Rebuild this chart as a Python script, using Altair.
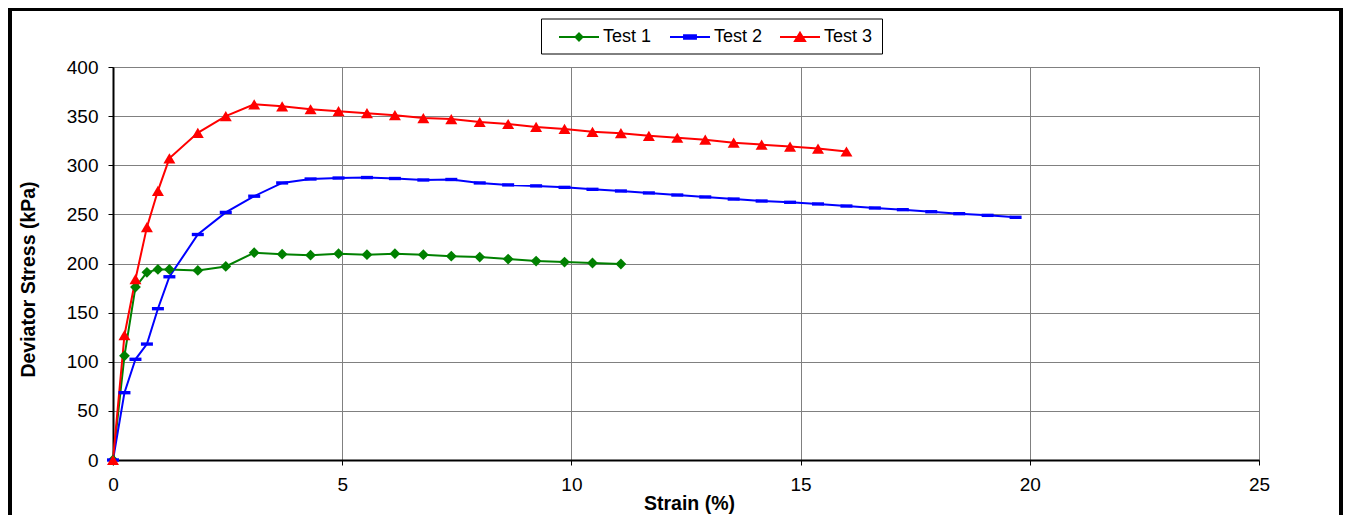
import altair as alt
import pandas as pd

# ---------------- data ----------------
strain = [0, 0.25, 0.49, 0.74, 0.98, 1.23, 1.85, 2.46, 3.08, 3.69, 4.31, 4.92,
          5.54, 6.15, 6.77, 7.38, 8.00, 8.62, 9.23, 9.85, 10.46, 11.08, 11.69,
          12.31, 12.92, 13.54, 14.15, 14.77, 15.38, 16.00, 16.62, 17.23, 17.85,
          18.46, 19.08, 19.69]

test1 = [0, 106, 176, 191, 194, 194, 193, 197, 211, 209.5, 208.5, 210, 209,
         210, 209, 207.5, 206.5, 204.5, 202.5, 201.5, 200.5, 199.5]

test2 = [0, 68.5, 102.5, 118, 154, 186.5, 229.5, 252, 268.5, 282, 286, 287,
         287.5, 286.5, 285, 285.5, 282, 280, 279, 277.5, 275.5, 273.8, 271.8,
         269.7, 267.7, 265.6, 263.6, 262.3, 260.6, 258.5, 256.5, 254.8, 252.7,
         250.7, 249, 247]

test3 = [0, 127, 184, 237, 274, 307, 333, 350, 362, 360, 357, 355, 353, 351,
         348, 347, 344, 342, 339, 337, 334, 332.6, 330, 328, 326, 323, 321, 319,
         317, 314]

series = ["Test 1", "Test 2", "Test 3"]
colors = ["#008000", "#0000FF", "#FF0000"]
x_ticks = [0, 5, 10, 15, 20, 25]
y_ticks = [0, 50, 100, 150, 200, 250, 300, 350, 400]

# marker shapes (unit-square SVG paths)
marker_paths = [
    "M0,-0.9L0.9,0L0,0.9L-0.9,0Z",              # diamond
    "M-1,-0.28L1,-0.28L1,0.28L-1,0.28Z",        # dash
    "M0,-0.85L1,0.85L-1,0.85Z",                 # triangle
]
# legend symbols: line segment + marker (scaled by sqrt(289)/2 = 8.5 px)
legend_paths = [
    "M-2.353,0L2.353,0M0,-0.41L0.41,0L0,0.41L-0.41,0Z",
    "M-2.353,0L2.353,0M-0.7,-0.2L0.7,-0.2L0.7,0.2L-0.7,0.2Z",
    "M-2.353,0L2.353,0M0,-0.5L0.59,0.47L-0.59,0.47Z",
]

rows = []
for name, vals in zip(series, [test1, test2, test3]):
    for i, v in enumerate(vals):
        rows.append({"series": name, "idx": i, "strain": strain[i], "stress": v})
df = pd.DataFrame(rows)

FONT = "Liberation Sans"
W, H = 1146, 393

x_enc = alt.X("strain:Q",
              scale=alt.Scale(domain=[0, 25], nice=False, zero=False),
              axis=alt.Axis(values=x_ticks, grid=True, title="Strain (%)",
                            titleX=576, titleY=34, titleBaseline="top",
                            labelFlush=False, domainWidth=2))
y_enc = alt.Y("stress:Q",
              scale=alt.Scale(domain=[0, 400], nice=False),
              axis=alt.Axis(values=y_ticks, grid=True,
                            title="Deviator Stress (kPa)",
                            titleX=-94, titleY=212, titleBaseline="top",
                            titleAngle=270, labelFlush=False, domainWidth=2))

color_scale = alt.Scale(domain=series, range=colors)

lines = alt.Chart(df).mark_line(strokeWidth=2).encode(
    x=x_enc, y=y_enc,
    color=alt.Color("series:N", scale=color_scale, legend=None),
    order="idx:Q",
)

points = alt.Chart(df).mark_point(filled=True, opacity=1, size=144).encode(
    x=x_enc, y=y_enc,
    color=alt.Color("series:N", scale=color_scale, legend=None),
    shape=alt.Shape("series:N", scale=alt.Scale(domain=series, range=marker_paths),
                    legend=None),
)

# legend box (decoration) and one legend entry per series
one = pd.DataFrame({"k": [0]})
legend_box = alt.Chart(one).mark_rect(fill="white", stroke="black", strokeWidth=1).encode(
    x=alt.value(428.5), x2=alt.value(769.5), y=alt.value(-48), y2=alt.value(-13))

legend_x = [456.5, 567.5, 677.5]
legend_layers = []
for name, col, path, lx in zip(series, colors, legend_paths, legend_x):
    lg = alt.Legend(
        title=None, orient="none", legendX=lx, legendY=-39.5,
        symbolSize=289, symbolStrokeWidth=2, symbolType=path,
        symbolFillColor=col, symbolStrokeColor=col, symbolOffset=0,
        labelOffset=14.5, padding=0, strokeColor="transparent",
        labelFont=FONT, labelFontSize=18, labelColor="black",
    )
    legend_layers.append(
        alt.Chart(df).transform_filter("datum.stress < 0").mark_point(
            filled=True, opacity=1).encode(
            x=x_enc, y=y_enc,
            color=alt.Color("series:N", scale=alt.Scale(domain=[name], range=[col]),
                            legend=lg),
        )
    )

frame_left = alt.Chart(one).mark_rule(color="black", strokeWidth=4).encode(
    x=alt.value(-103), y=alt.value(-59), y2=alt.value(448))
frame_right = alt.Chart(one).mark_rule(color="black", strokeWidth=4).encode(
    x=alt.value(1228), y=alt.value(-59), y2=alt.value(448))
frame_top = alt.Chart(one).mark_rule(color="black", strokeWidth=3).encode(
    x=alt.value(-105), x2=alt.value(1230), y=alt.value(-57.5))

chart = alt.layer(frame_left, frame_right, frame_top, legend_box, lines, points,
                  *legend_layers).resolve_scale(
    color="independent"
).properties(
    width=W, height=H,
    autosize=alt.AutoSizeParams(type="none"),
    padding={"left": 105, "top": 59, "right": 84, "bottom": 55},
    background="white",
).configure_view(
    stroke="black", strokeWidth=1
).configure_axis(
    labelFont=FONT, labelFontSize=19, labelColor="black", labelPadding=10,
    titleFont=FONT, titleFontSize=19.5, titleFontWeight="bold", titleColor="black",
    tickColor="black", tickSize=5, tickWidth=1, domainColor="black",
    gridColor="#808080", gridWidth=1, gridOpacity=1,
)

chart.save("out.html", embed_options={"renderer": "svg", "actions": False})
